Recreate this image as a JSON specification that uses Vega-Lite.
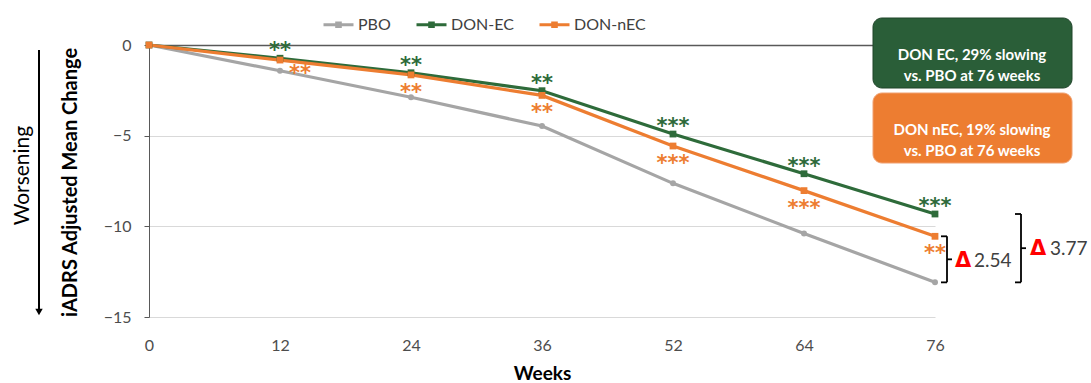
{
  "$schema": "https://vega.github.io/schema/vega-lite/v6.json",
  "width": 786,
  "height": 272,
  "autosize": {"type": "none"},
  "padding": {"left": 149, "top": 45, "right": 156, "bottom": 66},
  "background": "white",
  "config": {
    "font": "Lato",
    "view": {"stroke": null}
  },
  "datasets": {
    "scores": [
      {"week": 0, "group": "PBO", "change": 0, "sig": ""},
      {"week": 12, "group": "PBO", "change": -1.42, "sig": ""},
      {"week": 24, "group": "PBO", "change": -2.88, "sig": ""},
      {"week": 36, "group": "PBO", "change": -4.47, "sig": ""},
      {"week": 52, "group": "PBO", "change": -7.63, "sig": ""},
      {"week": 64, "group": "PBO", "change": -10.39, "sig": ""},
      {"week": 76, "group": "PBO", "change": -13.09, "sig": ""},
      {"week": 0, "group": "DON-EC", "change": 0, "sig": ""},
      {"week": 12, "group": "DON-EC", "change": -0.73, "sig": "**"},
      {"week": 24, "group": "DON-EC", "change": -1.53, "sig": "**"},
      {"week": 36, "group": "DON-EC", "change": -2.52, "sig": "**"},
      {"week": 52, "group": "DON-EC", "change": -4.91, "sig": "***"},
      {"week": 64, "group": "DON-EC", "change": -7.10, "sig": "***"},
      {"week": 76, "group": "DON-EC", "change": -9.32, "sig": "***"},
      {"week": 0, "group": "DON-nEC", "change": 0, "sig": ""},
      {"week": 12, "group": "DON-nEC", "change": -0.83, "sig": "**"},
      {"week": 24, "group": "DON-nEC", "change": -1.65, "sig": "**"},
      {"week": 36, "group": "DON-nEC", "change": -2.78, "sig": "**"},
      {"week": 52, "group": "DON-nEC", "change": -5.57, "sig": "***"},
      {"week": 64, "group": "DON-nEC", "change": -8.03, "sig": "***"},
      {"week": 76, "group": "DON-nEC", "change": -10.55, "sig": "**"}
    ],
    "deltas": [
      {"pair": "DON-nEC", "top": -10.55, "bottom": -13.09, "delta": "2.54"},
      {"pair": "DON-EC", "top": -9.32, "bottom": -13.09, "delta": "3.77"}
    ],
    "callouts": [
      {"group": "DON-EC", "lines": ["DON EC, 29% slowing", "vs. PBO at 76 weeks"]},
      {"group": "DON-nEC", "lines": ["DON nEC, 19% slowing", "vs. PBO at 76 weeks"]}
    ]
  },
  "layer": [
    {
      "data": {"name": "scores"},
      "mark": {"type": "line", "strokeWidth": 3.2},
      "encoding": {
        "x": {
          "field": "week",
          "type": "ordinal",
          "scale": {"type": "point", "padding": 0, "domain": [0, 12, 24, 36, 52, 64, 76]},
          "axis": {
            "title": "Weeks",
            "labelAngle": 0,
            "domain": false,
            "ticks": false,
            "tickSize": 0,
            "grid": false,
            "labelPadding": 20,
            "labelFontSize": 16,
            "labelColor": "#4D4D4D",
            "titleFontSize": 19,
            "titleFontWeight": "bold",
            "titleColor": "#000000",
            "titlePadding": 11
          }
        },
        "y": {
          "field": "change",
          "type": "quantitative",
          "scale": {"domain": [-15, 0], "nice": false, "zero": false},
          "axis": {
            "title": "iADRS Adjusted Mean Change",
            "values": [0, -5, -10, -15],
            "domainColor": "#595959",
            "domainWidth": 1,
            "tickColor": "#595959",
            "tickSize": 5,
            "labelPadding": 13,
            "labelFontSize": 16,
            "labelColor": "#4D4D4D",
            "grid": true,
            "gridColor": {"condition": {"test": "datum.value === 0", "value": "#595959"}, "value": "#D9D9D9"},
            "gridWidth": {"condition": {"test": "datum.value === 0", "value": 1.4}, "value": 1},
            "titleFontSize": 20,
            "titleFontWeight": "bold",
            "titleColor": "#000000",
            "titleAngle": -90,
            "titleAlign": "center",
            "titleBaseline": "middle",
            "titleX": -79,
            "titleY": 137
          }
        },
        "color": {
          "field": "group",
          "type": "nominal",
          "scale": {"domain": ["PBO", "DON-EC", "DON-nEC"], "range": ["#A5A5A5", "#2E6B3A", "#ED7D31"]},
          "legend": {
            "title": null,
            "orient": "none",
            "direction": "horizontal",
            "legendX": 173,
            "legendY": -37,
            "padding": 0,
            "symbolType": "M-1,0H1M-0.12,-0.12H0.12V0.12H-0.12Z",
            "symbolSize": 900,
            "symbolStrokeWidth": 3,
            "labelFontSize": 16,
            "labelColor": "#404040",
            "labelOffset": 3,
            "columnPadding": 19
          }
        }
      }
    },
    {
      "data": {"name": "scores"},
      "transform": [{"filter": "datum.group === 'PBO'"}],
      "mark": {"type": "point", "shape": "circle", "filled": true, "opacity": 1, "size": 36, "color": "#A5A5A5"},
      "encoding": {
        "x": {"field": "week", "type": "ordinal"},
        "y": {"field": "change", "type": "quantitative"}
      }
    },
    {
      "data": {"name": "scores"},
      "transform": [{"filter": "datum.group === 'DON-EC'"}],
      "mark": {"type": "point", "shape": "square", "filled": true, "opacity": 1, "size": 46, "color": "#2E6B3A"},
      "encoding": {
        "x": {"field": "week", "type": "ordinal"},
        "y": {"field": "change", "type": "quantitative"}
      }
    },
    {
      "data": {"name": "scores"},
      "transform": [{"filter": "datum.group === 'DON-nEC'"}],
      "mark": {"type": "point", "shape": "square", "filled": true, "opacity": 1, "size": 46, "color": "#ED7D31"},
      "encoding": {
        "x": {"field": "week", "type": "ordinal"},
        "y": {"field": "change", "type": "quantitative"}
      }
    },
    {
      "data": {"name": "scores"},
      "transform": [{"filter": "datum.group === 'DON-EC'"}],
      "mark": {"type": "text", "font": "DejaVu Sans", "fontSize": 21, "fontWeight": "bold", "color": "#2E6B3A", "baseline": "middle", "dy": -7},
      "encoding": {
        "x": {"field": "week", "type": "ordinal"},
        "y": {"field": "change", "type": "quantitative"},
        "text": {"field": "sig"}
      }
    },
    {
      "data": {"name": "scores"},
      "transform": [{"filter": "datum.group === 'DON-nEC' && datum.week !== 12"}],
      "mark": {"type": "text", "font": "DejaVu Sans", "fontSize": 21, "fontWeight": "bold", "color": "#ED7D31", "baseline": "middle", "dy": 18},
      "encoding": {
        "x": {"field": "week", "type": "ordinal"},
        "y": {"field": "change", "type": "quantitative"},
        "text": {"field": "sig"}
      }
    },
    {
      "data": {"name": "scores"},
      "transform": [{"filter": "datum.group === 'DON-nEC' && datum.week === 12"}],
      "mark": {"type": "text", "font": "DejaVu Sans", "fontSize": 21, "fontWeight": "bold", "color": "#ED7D31", "baseline": "middle", "dx": 20, "dy": 14},
      "encoding": {
        "x": {"field": "week", "type": "ordinal"},
        "y": {"field": "change", "type": "quantitative"},
        "text": {"field": "sig"}
      }
    },
    {
      "data": {"name": "callouts"},
      "transform": [{"filter": "datum.group === 'DON-EC'"}],
      "layer": [
        {
          "mark": {"type": "rect", "fill": "#2A5E38", "stroke": "#1F4429", "strokeWidth": 1, "cornerRadius": 9, "xOffset": -62, "x2Offset": 137, "yOffset": -27, "y2Offset": 43},
          "encoding": {
            "x": {"datum": 76, "type": "ordinal"},
            "x2": {"datum": 76},
            "y": {"datum": 0, "type": "quantitative"},
            "y2": {"datum": 0}
          }
        },
        {
          "mark": {"type": "text", "align": "center", "baseline": "middle", "lineHeight": 21, "fontSize": 15, "fontWeight": "bold", "color": "#FFFFFF", "xOffset": 37, "yOffset": 10},
          "encoding": {
            "x": {"datum": 76, "type": "ordinal"},
            "y": {"datum": 0, "type": "quantitative"},
            "text": {"field": "lines"}
          }
        }
      ]
    },
    {
      "data": {"name": "callouts"},
      "transform": [{"filter": "datum.group === 'DON-nEC'"}],
      "layer": [
        {
          "mark": {"type": "rect", "fill": "#ED7D31", "stroke": "#F0A070", "strokeWidth": 1, "cornerRadius": 9, "xOffset": -62, "x2Offset": 137, "yOffset": 48, "y2Offset": 118},
          "encoding": {
            "x": {"datum": 76, "type": "ordinal"},
            "x2": {"datum": 76},
            "y": {"datum": 0, "type": "quantitative"},
            "y2": {"datum": 0}
          }
        },
        {
          "mark": {"type": "text", "align": "center", "baseline": "middle", "lineHeight": 21, "fontSize": 15, "fontWeight": "bold", "color": "#FFFFFF", "xOffset": 37, "yOffset": 85},
          "encoding": {
            "x": {"datum": 76, "type": "ordinal"},
            "y": {"datum": 0, "type": "quantitative"},
            "text": {"field": "lines"}
          }
        }
      ]
    },
    {
      "data": {"name": "deltas"},
      "transform": [
        {"filter": "datum.pair === 'DON-nEC'"},
        {"calculate": "(datum.top + datum.bottom) / 2", "as": "mid"}
      ],
      "layer": [
        {
          "mark": {"type": "rule", "color": "#000000", "strokeWidth": 1.8, "xOffset": 12},
          "encoding": {
            "x": {"datum": 76, "type": "ordinal"},
            "y": {"field": "top", "type": "quantitative"},
            "y2": {"field": "bottom"}
          }
        },
        {
          "mark": {"type": "rule", "color": "#000000", "strokeWidth": 1.8, "xOffset": 6, "x2Offset": 12},
          "encoding": {
            "x": {"datum": 76, "type": "ordinal"},
            "x2": {"datum": 76},
            "y": {"field": "top", "type": "quantitative"}
          }
        },
        {
          "mark": {"type": "rule", "color": "#000000", "strokeWidth": 1.8, "xOffset": 6, "x2Offset": 12},
          "encoding": {
            "x": {"datum": 76, "type": "ordinal"},
            "x2": {"datum": 76},
            "y": {"field": "bottom", "type": "quantitative"}
          }
        },
        {
          "mark": {"type": "rule", "color": "#000000", "strokeWidth": 1.8, "xOffset": 12, "x2Offset": 17},
          "encoding": {
            "x": {"datum": 76, "type": "ordinal"},
            "x2": {"datum": 76},
            "y": {"field": "mid", "type": "quantitative"}
          }
        },
        {
          "mark": {"type": "text", "text": "Δ", "font": "DejaVu Sans", "fontWeight": "bold", "fontSize": 21, "color": "#FF0000", "align": "center", "baseline": "middle", "xOffset": 28, "yOffset": 2},
          "encoding": {
            "x": {"datum": 76, "type": "ordinal"},
            "y": {"field": "mid", "type": "quantitative"}
          }
        },
        {
          "mark": {"type": "text", "fontSize": 19, "color": "#404040", "align": "left", "baseline": "middle", "xOffset": 39, "yOffset": 2},
          "encoding": {
            "x": {"datum": 76, "type": "ordinal"},
            "y": {"field": "mid", "type": "quantitative"},
            "text": {"field": "delta"}
          }
        }
      ]
    },
    {
      "data": {"name": "deltas"},
      "transform": [
        {"filter": "datum.pair === 'DON-EC'"},
        {"calculate": "(datum.top + datum.bottom) / 2", "as": "mid"}
      ],
      "layer": [
        {
          "mark": {"type": "rule", "color": "#000000", "strokeWidth": 1.8, "xOffset": 86},
          "encoding": {
            "x": {"datum": 76, "type": "ordinal"},
            "y": {"field": "top", "type": "quantitative"},
            "y2": {"field": "bottom"}
          }
        },
        {
          "mark": {"type": "rule", "color": "#000000", "strokeWidth": 1.8, "xOffset": 80, "x2Offset": 86},
          "encoding": {
            "x": {"datum": 76, "type": "ordinal"},
            "x2": {"datum": 76},
            "y": {"field": "top", "type": "quantitative"}
          }
        },
        {
          "mark": {"type": "rule", "color": "#000000", "strokeWidth": 1.8, "xOffset": 80, "x2Offset": 86},
          "encoding": {
            "x": {"datum": 76, "type": "ordinal"},
            "x2": {"datum": 76},
            "y": {"field": "bottom", "type": "quantitative"}
          }
        },
        {
          "mark": {"type": "rule", "color": "#000000", "strokeWidth": 1.8, "xOffset": 86, "x2Offset": 91},
          "encoding": {
            "x": {"datum": 76, "type": "ordinal"},
            "x2": {"datum": 76},
            "y": {"field": "mid", "type": "quantitative"}
          }
        },
        {
          "mark": {"type": "text", "text": "Δ", "font": "DejaVu Sans", "fontWeight": "bold", "fontSize": 21, "color": "#FF0000", "align": "center", "baseline": "middle", "xOffset": 103, "yOffset": 1},
          "encoding": {
            "x": {"datum": 76, "type": "ordinal"},
            "y": {"field": "mid", "type": "quantitative"}
          }
        },
        {
          "mark": {"type": "text", "fontSize": 19, "color": "#404040", "align": "left", "baseline": "middle", "xOffset": 115, "yOffset": 1},
          "encoding": {
            "x": {"datum": 76, "type": "ordinal"},
            "y": {"field": "mid", "type": "quantitative"},
            "text": {"field": "delta"}
          }
        }
      ]
    },
    {
      "data": {"values": [{"note": "Worsening"}]},
      "layer": [
        {
          "mark": {"type": "text", "angle": 270, "fontSize": 21, "color": "#000000", "align": "center", "baseline": "middle", "xOffset": -126},
          "encoding": {
            "x": {"datum": 0, "type": "ordinal"},
            "y": {"datum": -7.2, "type": "quantitative"},
            "text": {"field": "note"}
          }
        },
        {
          "mark": {"type": "rule", "color": "#000000", "strokeWidth": 2, "xOffset": -110, "yOffset": 5, "y2Offset": -6},
          "encoding": {
            "x": {"datum": 0, "type": "ordinal"},
            "y": {"datum": 0, "type": "quantitative"},
            "y2": {"datum": -15}
          }
        },
        {
          "mark": {"type": "point", "shape": "triangle-down", "filled": true, "opacity": 1, "size": 55, "color": "#000000", "xOffset": -110, "yOffset": -5},
          "encoding": {
            "x": {"datum": 0, "type": "ordinal"},
            "y": {"datum": -15, "type": "quantitative"}
          }
        }
      ]
    }
  ]
}
